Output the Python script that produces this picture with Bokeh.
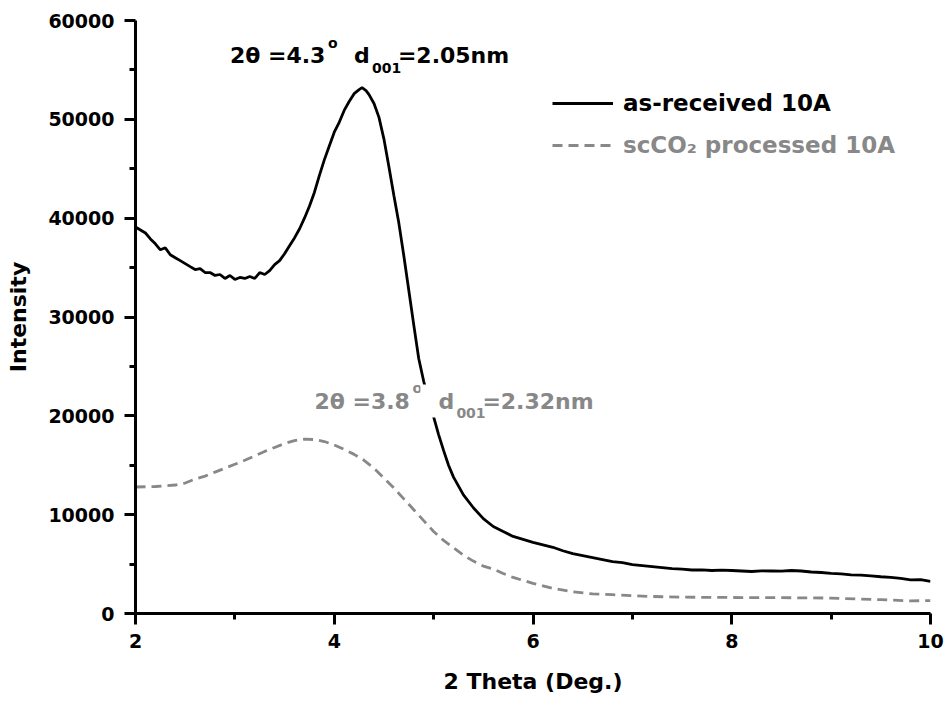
from bokeh.plotting import figure
from bokeh.models import Legend, LegendItem, Label, FixedTicker, Range1d
from bokeh.embed import file_html
from bokeh.resources import INLINE

# ---- data ----
x_asrec = [2.00, 2.05, 2.10, 2.15, 2.20, 2.25, 2.30, 2.35, 2.40, 2.45, 2.50, 2.55,
           2.60, 2.65, 2.70, 2.75, 2.80, 2.85, 2.90, 2.95, 3.00, 3.05, 3.10, 3.15,
           3.20, 3.25, 3.30, 3.35, 3.40, 3.45, 3.50, 3.55, 3.60, 3.65, 3.70, 3.75,
           3.80, 3.85, 3.90, 3.95, 4.00, 4.05, 4.10, 4.15, 4.20, 4.25, 4.28, 4.32,
           4.35, 4.40, 4.45, 4.50, 4.55, 4.60, 4.65, 4.70, 4.75, 4.80, 4.85, 4.90,
           4.95, 5.00, 5.05, 5.10, 5.15, 5.20, 5.30, 5.40, 5.50, 5.60, 5.70, 5.80,
           5.90, 6.00, 6.10, 6.20, 6.30, 6.40, 6.50, 6.60, 6.70, 6.80, 6.90, 7.00,
           7.10, 7.20, 7.30, 7.40, 7.50, 7.60, 7.70, 7.80, 7.90, 8.00, 8.10, 8.20,
           8.30, 8.40, 8.50, 8.60, 8.70, 8.80, 8.90, 9.00, 9.10, 9.20, 9.30, 9.40,
           9.50, 9.60, 9.70, 9.80, 9.90, 10.00]
y_asrec = [39100, 38800, 38500, 37900, 37400, 36800, 37000, 36300, 36000, 35700, 35400, 35100,
           34800, 34900, 34500, 34500, 34200, 34300, 33900, 34200, 33800, 34000, 33900, 34100,
           33900, 34500, 34300, 34700, 35300, 35700, 36400, 37200, 38000, 38900, 40000, 41200,
           42600, 44300, 45900, 47300, 48700, 49700, 50900, 51800, 52600, 53000, 53200, 52900,
           52500, 51600, 50200, 48000, 45200, 42300, 39500, 36200, 32700, 29200, 25800, 23500,
           21600, 19900, 18100, 16500, 15000, 13800, 12000, 10700, 9600, 8800, 8300, 7800,
           7500, 7200, 6950, 6700, 6350, 6050, 5850, 5650, 5450, 5250, 5150, 4950,
           4850, 4750, 4650, 4550, 4480, 4400, 4420, 4350, 4380, 4350, 4300, 4250,
           4320, 4300, 4280, 4350, 4300, 4200, 4150, 4050, 4000, 3900, 3880, 3800,
           3720, 3650, 3550, 3400, 3420, 3250]

x_scco2 = [2.00, 2.20, 2.40, 2.50, 2.60, 2.70, 2.80, 2.90, 3.00, 3.10, 3.20, 3.30,
           3.40, 3.50, 3.60, 3.70, 3.80, 3.90, 4.00, 4.10, 4.20, 4.30, 4.40, 4.50,
           4.60, 4.70, 4.80, 4.90, 5.00, 5.10, 5.20, 5.30, 5.40, 5.50, 5.60, 5.70,
           5.80, 5.90, 6.00, 6.20, 6.40, 6.60, 6.80, 7.00, 7.20, 7.50, 8.00, 8.50,
           9.00, 9.50, 9.80, 10.00]
y_scco2 = [12800, 12850, 13000, 13200, 13600, 13900, 14300, 14700, 15100, 15500, 15950, 16400,
           16800, 17200, 17500, 17650, 17600, 17400, 17050, 16600, 16100, 15500, 14700, 13700,
           12700, 11600, 10500, 9400, 8300, 7400, 6650, 5900, 5300, 4800, 4500, 4050,
           3650, 3350, 3050, 2550, 2200, 1980, 1900, 1800, 1720, 1650, 1620, 1600,
           1560, 1400, 1280, 1300]

x_ticks = [2, 4, 6, 8, 10]
x_minor = [3, 5, 7, 9]
y_ticks = [0, 10000, 20000, 30000, 40000, 50000, 60000]
y_minor = [5000, 15000, 25000, 35000, 45000, 55000]

series_names = ["as-received 10A", "scCO\u2082 processed 10A"]
# annotation pieces: (main text, superscript, d, subscript, rest)
note_top = ["2\u03b8 =4.3", "o", "d", "001", "=2.05nm"]
note_low = ["2\u03b8 =3.8", "o", "d", "001", "=2.32nm"]

FONT = "DejaVu Sans"
GRAY = "#888888"

p = figure(width=945, height=702, output_backend="svg", toolbar_location=None,
           x_range=Range1d(2, 10), y_range=Range1d(0, 60000),
           min_border_left=135, min_border_right=15, min_border_top=20, min_border_bottom=89)
p.outline_line_color = None
p.xgrid.visible = False
p.ygrid.visible = False
p.background_fill_color = "white"
p.border_fill_color = "white"

r1 = p.line(x_asrec, y_asrec, line_color="black", line_width=2.8)
r2 = p.line(x_scco2, y_scco2, line_color=GRAY, line_width=2.8, line_dash="10 6")

for ax, tk, mn in ((p.xaxis[0], x_ticks, x_minor), (p.yaxis[0], y_ticks, y_minor)):
    ax.ticker = FixedTicker(ticks=tk, minor_ticks=mn)
    ax.axis_line_width = 3
    ax.major_tick_line_width = 3
    ax.minor_tick_line_width = 3
    ax.major_tick_in = 0
    ax.major_tick_out = 11
    ax.minor_tick_in = 0
    ax.minor_tick_out = 6
    ax.major_label_text_font = FONT
    ax.major_label_text_font_style = "bold"
    ax.major_label_text_font_size = "19px"
    ax.major_label_text_color = "black"
    ax.axis_label_text_font = FONT
    ax.axis_label_text_font_style = "bold"
    ax.axis_label_text_font_size = "22px"
    ax.axis_label_text_color = "black"

p.xaxis.axis_label = "2 Theta (Deg.)"
p.yaxis.axis_label = "Intensity"
p.xaxis.major_label_standoff = 9
p.yaxis.major_label_standoff = 10
p.xaxis.axis_label_standoff = 18
p.yaxis.axis_label_standoff = 14


def make_legend(item_label, rend, color, loc):
    lg = Legend(items=[LegendItem(label=item_label, renderers=[rend])], location=loc,
                padding=0, margin=0, spacing=0, border_line_color=None,
                background_fill_alpha=0, glyph_width=61, glyph_height=26,
                label_height=26, label_standoff=10,
                label_text_font=FONT, label_text_font_style="bold",
                label_text_font_size="23px", label_text_color=color)
    p.add_layout(lg)


make_legend(series_names[0], r1, "black", (417, 497))
make_legend(series_names[1], r2, GRAY, (417, 455))


def annotate(pieces, x, y, color, offsets, cover=False):
    main, sup, d, sub, rest = pieces
    specs = [(main, offsets[0], 0, "22px"), (sup, offsets[1], 13, "14px"),
             (d, offsets[2], 0, "22px"), (sub, offsets[3], -12, "14px"),
             (rest, offsets[4], 0, "22px")]
    for i, (txt, dx, dy, fs) in enumerate(specs):
        kw = {}
        if cover and i == 2:
            # white box (left, right, top, bottom) hiding the black curve behind the note
            kw = dict(background_fill_color="white", padding=(18, 2, 4, 4))
            dx -= 18
        p.add_layout(Label(x=x, y=y, x_offset=dx, y_offset=dy, text=txt, text_font=FONT,
                           text_font_style="bold", text_font_size=fs, text_color=color,
                           text_baseline="alphabetic", level="overlay", **kw))


annotate(note_top, 2.95, 56450, "black", [0, 98, 124, 142, 168])
annotate(note_low, 3.80, 21500, GRAY, [0, 98, 124, 142, 168], cover=True)

open("out.html", "w").write(file_html(p, INLINE))
